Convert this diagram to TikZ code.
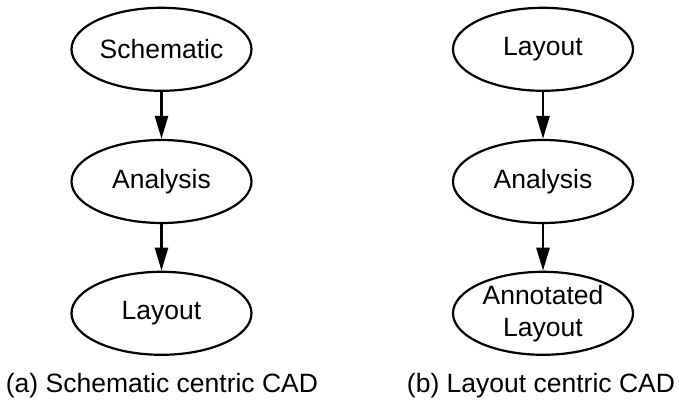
\documentclass[tikz,border=0pt]{standalone}
\usepackage{fontspec}
\setmainfont{Liberation Sans}
\usetikzlibrary{shapes.geometric,arrows.meta}
\begin{document}
\begin{tikzpicture}[x=1pt,y=1pt,
  every node/.style={font=\fontsize{26.5}{32}\selectfont},
  oval/.style={draw, ellipse, line width=2.2pt, minimum width=180pt, minimum height=83pt, inner sep=0pt, align=center},
  arr/.style={line width=2.6pt, -{Triangle[width=13pt,length=23pt]}},
  captext/.style={anchor=base}]
\useasboundingbox (0,0) rectangle (679,399);
\node[oval] (sch)  at (161.5,349.7) {Schematic};
\node[oval] (ana1) at (161.5,217.5) {Analysis};
\node[oval] (lay1) at (161.5,85.7) {Layout};
\node[oval] (lay2) at (543,349.7) {Layout};
\node[oval] (ana2) at (543,217.5) {Analysis};
\node[oval] (ann)  at (543,85.7) {Annotated\\Layout};
\draw[arr] (sch) -- (ana1);
\draw[arr] (ana1) -- (lay1);
\draw[arr] (lay2) -- (ana2);
\draw[arr] (ana2) -- (ann);
\node[captext] (capa) at (162,6.5) {(a) Schematic centric CAD};
\node[captext] (capb) at (541,6.5) {(b) Layout centric CAD};
\end{tikzpicture}
\end{document}
